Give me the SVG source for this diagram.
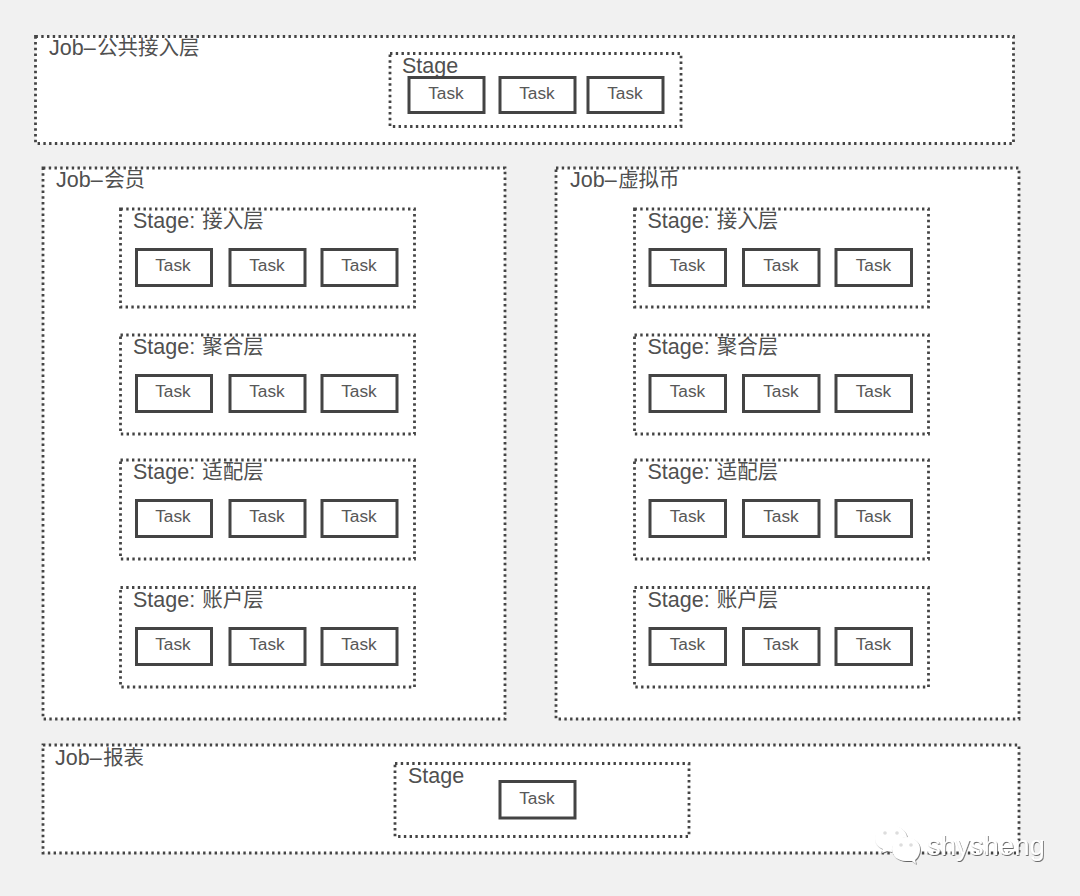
<svg xmlns="http://www.w3.org/2000/svg" width="1080" height="896" viewBox="0 0 1080 896">
<defs>
<style>
.job,.stage{fill:#fff;stroke:#444;stroke-width:2.800;stroke-dasharray:2.4 3.35}
rect.task{fill:#fff;stroke:#444;stroke-width:3}
text{font-family:"Liberation Sans","Noto Sans CJK SC",sans-serif;fill:#505050}
.jt,.st{font-size:21.5px}
.jt tspan,.st tspan{font-size:20.5px}
.tt{font-size:17.3px;text-anchor:middle;fill:#585858}
.wm{fill:#fff;font-size:27.5px}
</style>
<filter id="sh" x="-10%" y="-20%" width="120%" height="140%"><feDropShadow dx="0.8" dy="1" stdDeviation="0.5" flood-color="#555" flood-opacity="0.9"/></filter>
</defs>
<rect width="1080" height="896" fill="#f1f1f1"/>
<g id="connectors"/>
<g id="job-public"><rect class="job" x="35.500" y="36.500" width="978" height="107"/><text class="jt" x="49" y="55">Job–<tspan dx="1.500">公共接入层</tspan></text>
<g id="p-stage"><rect class="stage" x="390" y="53.500" width="291" height="73"/><text class="st" x="402" y="73">Stage</text>
<g id="p-t1"><rect class="task" x="409" y="77.500" width="75" height="35"/><text class="tt" x="446" y="99">Task</text></g>
<g id="p-t2"><rect class="task" x="500" y="77.500" width="75" height="35"/><text class="tt" x="537" y="99">Task</text></g>
<g id="p-t3"><rect class="task" x="588" y="77.500" width="75" height="35"/><text class="tt" x="625" y="99">Task</text></g>
</g></g>
<g id="job-member"><rect class="job" x="43" y="168" width="462" height="551"/><text class="jt" x="56" y="187">Job–<tspan dx="1.500">会员</tspan></text>
<g id="m-s1"><rect class="stage" x="120.500" y="209" width="294" height="98"/><text class="st" x="133" y="228">Stage: <tspan dx="1">接入层</tspan></text>
<g id="m-s1-t1"><rect class="task" x="136.500" y="249.500" width="75" height="36"/><text class="tt" x="173" y="271">Task</text></g>
<g id="m-s1-t2"><rect class="task" x="230" y="249.500" width="75" height="36"/><text class="tt" x="267" y="271">Task</text></g>
<g id="m-s1-t3"><rect class="task" x="322" y="249.500" width="75" height="36"/><text class="tt" x="359" y="271">Task</text></g></g>
<g id="m-s2"><rect class="stage" x="120.500" y="335" width="294" height="99"/><text class="st" x="133" y="354">Stage: <tspan dx="1">聚合层</tspan></text>
<g id="m-s2-t1"><rect class="task" x="136.500" y="375.500" width="75" height="36"/><text class="tt" x="173" y="397">Task</text></g>
<g id="m-s2-t2"><rect class="task" x="230" y="375.500" width="75" height="36"/><text class="tt" x="267" y="397">Task</text></g>
<g id="m-s2-t3"><rect class="task" x="322" y="375.500" width="75" height="36"/><text class="tt" x="359" y="397">Task</text></g></g>
<g id="m-s3"><rect class="stage" x="120.500" y="460" width="294" height="99"/><text class="st" x="133" y="479">Stage: <tspan dx="1">适配层</tspan></text>
<g id="m-s3-t1"><rect class="task" x="136.500" y="500.500" width="75" height="36"/><text class="tt" x="173" y="522">Task</text></g>
<g id="m-s3-t2"><rect class="task" x="230" y="500.500" width="75" height="36"/><text class="tt" x="267" y="522">Task</text></g>
<g id="m-s3-t3"><rect class="task" x="322" y="500.500" width="75" height="36"/><text class="tt" x="359" y="522">Task</text></g></g>
<g id="m-s4"><rect class="stage" x="120.500" y="587.500" width="294" height="99.500"/><text class="st" x="133" y="607">Stage: <tspan dx="1">账户层</tspan></text>
<g id="m-s4-t1"><rect class="task" x="136.500" y="628.500" width="75" height="36"/><text class="tt" x="173" y="650">Task</text></g>
<g id="m-s4-t2"><rect class="task" x="230" y="628.500" width="75" height="36"/><text class="tt" x="267" y="650">Task</text></g>
<g id="m-s4-t3"><rect class="task" x="322" y="628.500" width="75" height="36"/><text class="tt" x="359" y="650">Task</text></g></g>
</g>
<g id="job-coin"><rect class="job" x="556" y="168" width="463" height="551"/><text class="jt" x="570" y="187">Job–<tspan dx="1.500">虚拟币</tspan></text>
<g id="c-s1"><rect class="stage" x="634.500" y="209" width="294" height="98"/><text class="st" x="647.500" y="228">Stage: <tspan dx="1">接入层</tspan></text>
<g id="c-s1-t1"><rect class="task" x="650" y="249.500" width="75.500" height="36"/><text class="tt" x="687.500" y="271">Task</text></g>
<g id="c-s1-t2"><rect class="task" x="743.500" y="249.500" width="75.500" height="36"/><text class="tt" x="781" y="271">Task</text></g>
<g id="c-s1-t3"><rect class="task" x="836" y="249.500" width="75.500" height="36"/><text class="tt" x="873.500" y="271">Task</text></g></g>
<g id="c-s2"><rect class="stage" x="634.500" y="335" width="294" height="99"/><text class="st" x="647.500" y="354">Stage: <tspan dx="1">聚合层</tspan></text>
<g id="c-s2-t1"><rect class="task" x="650" y="375.500" width="75.500" height="36"/><text class="tt" x="687.500" y="397">Task</text></g>
<g id="c-s2-t2"><rect class="task" x="743.500" y="375.500" width="75.500" height="36"/><text class="tt" x="781" y="397">Task</text></g>
<g id="c-s2-t3"><rect class="task" x="836" y="375.500" width="75.500" height="36"/><text class="tt" x="873.500" y="397">Task</text></g></g>
<g id="c-s3"><rect class="stage" x="634.500" y="460" width="294" height="99"/><text class="st" x="647.500" y="479">Stage: <tspan dx="1">适配层</tspan></text>
<g id="c-s3-t1"><rect class="task" x="650" y="500.500" width="75.500" height="36"/><text class="tt" x="687.500" y="522">Task</text></g>
<g id="c-s3-t2"><rect class="task" x="743.500" y="500.500" width="75.500" height="36"/><text class="tt" x="781" y="522">Task</text></g>
<g id="c-s3-t3"><rect class="task" x="836" y="500.500" width="75.500" height="36"/><text class="tt" x="873.500" y="522">Task</text></g></g>
<g id="c-s4"><rect class="stage" x="634.500" y="587.500" width="294" height="99.500"/><text class="st" x="647.500" y="607">Stage: <tspan dx="1">账户层</tspan></text>
<g id="c-s4-t1"><rect class="task" x="650" y="628.500" width="75.500" height="36"/><text class="tt" x="687.500" y="650">Task</text></g>
<g id="c-s4-t2"><rect class="task" x="743.500" y="628.500" width="75.500" height="36"/><text class="tt" x="781" y="650">Task</text></g>
<g id="c-s4-t3"><rect class="task" x="836" y="628.500" width="75.500" height="36"/><text class="tt" x="873.500" y="650">Task</text></g></g>
</g>
<g id="job-report"><rect class="job" x="43" y="745" width="976" height="108"/><text class="jt" x="55" y="765">Job–<tspan dx="1.500">报表</tspan></text>
<g id="r-stage"><rect class="stage" x="395" y="763.500" width="294" height="73"/><text class="st" x="408" y="783">Stage</text>
<g id="r-t1"><rect class="task" x="500" y="781.500" width="75" height="36.500"/><text class="tt" x="537" y="804">Task</text></g></g></g>
<g id="watermark" filter="url(#sh)">
<path fill="#fff" d="M891 825c-9 0-16 6-16 13 0 5 3 9 8 11l-1 4 5-2 5 1c-1-8 6-14 15-15-1-7-8-12-16-12z"/>
<path fill="#fff" d="M906 837c-8 0-14 5-14 12s6 12 14 12c2 0 4 0 6 0l4 3-1-4c3-2 5-7 5-11 0-7-6-12-14-12z"/>
<circle cx="885" cy="833" r="1.800" fill="#ddd"/><circle cx="897" cy="833" r="1.800" fill="#ddd"/><circle cx="901" cy="845" r="1.800" fill="#ddd"/><circle cx="911" cy="845" r="1.800" fill="#ddd"/>
<text class="wm" x="927" y="855">shysheng</text>
</g>
</svg>
